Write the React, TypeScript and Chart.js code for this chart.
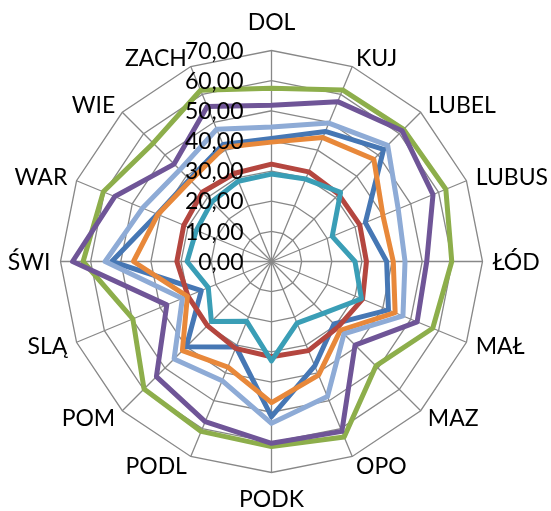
import { useEffect, useRef } from "react";
import { Chart, registerables } from "chart.js";

Chart.register(...registerables);

const categories = ["DOL", "KUJ", "LUBEL", "LUBUS", "ŁÓD", "MAŁ", "MAZ", "OPO", "PODK", "PODL", "POM", "SLĄ", "ŚWI", "WAR", "WIE", "ZACH"];

const tickValues = [0, 10, 20, 30, 40, 50, 60, 70];
const tickLabels = ["0,00", "10,00", "20,00", "30,00", "40,00", "50,00", "60,00", "70,00"];

const seriesDarkBlue = [40.8, 46.7, 52.6, 33.7, 38.2, 42.0, 29.3, 37.5, 51.5, 30.7, 40.0, 25.2, 53.0, 41.0, 38.5, 42.0];
const seriesRed = [32.3, 32.2, 31.5, 31.7, 31.5, 32.7, 31.0, 32.0, 31.6, 31.2, 30.1, 30.0, 31.4, 31.5, 32.5, 31.7];
const seriesGreen = [57.5, 61.6, 62.0, 62.6, 59.8, 57.9, 49.0, 63.0, 61.4, 61.0, 59.8, 49.8, 62.5, 60.4, 55.5, 61.5];
const seriesPurple = [51.8, 57.4, 61.3, 58.0, 51.5, 52.3, 39.2, 61.0, 60.3, 57.5, 54.0, 37.6, 66.0, 56.3, 45.7, 55.7];
const seriesTeal = [29.0, 29.6, 32.4, 21.8, 27.7, 32.3, 24.3, 22.1, 33.0, 21.5, 28.2, 22.7, 28.0, 27.0, 28.0, 28.8];
const seriesOrange = [39.6, 44.5, 48.0, 40.0, 40.4, 44.4, 32.3, 40.8, 46.8, 37.9, 41.8, 30.2, 45.8, 40.8, 38.0, 41.0];
const seriesLightBlue = [44.6, 49.7, 54.5, 45.5, 44.3, 47.2, 34.0, 48.5, 53.7, 42.8, 45.7, 32.0, 55.2, 46.3, 43.0, 47.5];

const seriesList = [
  { data: seriesDarkBlue, color: "#4677B4" },
  { data: seriesRed, color: "#B4463F" },
  { data: seriesGreen, color: "#8DAE4B" },
  { data: seriesPurple, color: "#6F5597" },
  { data: seriesTeal, color: "#3A9EB6" },
  { data: seriesOrange, color: "#E8883A" },
  { data: seriesLightBlue, color: "#8EABD6" },
];

const CX = 271.5;
const CY = 261.5;
const RADIUS = 211;
const FONT_SIZE = 23;
const FONT = `${FONT_SIZE}px Lato, "Open Sans", sans-serif`;
const CAP = FONT_SIZE * 0.7165;

const geometryPlugin = {
  id: "excelRadarGeometry",
  afterLayout(chart: any) {
    const r = chart.scales.r;
    r.xCenter = CX;
    r.yCenter = CY;
    r.drawingArea = RADIUS;
  },
  afterDatasetsDraw(chart: any) {
    const r = chart.scales.r;
    const ctx = chart.ctx as CanvasRenderingContext2D;
    ctx.save();
    ctx.fillStyle = "#000000";
    ctx.font = FONT;
    ctx.textBaseline = "alphabetic";
    // value axis labels
    ctx.textAlign = "right";
    tickValues.forEach((v, i) => {
      const d = r.getDistanceFromCenterForValue(v);
      ctx.fillText(tickLabels[i], r.xCenter - 28, r.yCenter - d + CAP / 2);
    });
    // category labels
    const n = categories.length;
    categories.forEach((lab, i) => {
      const p = r.getPointPosition(i, r.drawingArea + 10);
      const a = (i * 360) / n;
      if (a === 0) {
        ctx.textAlign = "center";
        ctx.fillText(lab, p.x, p.y - 19 + CAP / 2);
      } else if (a === 180) {
        ctx.textAlign = "center";
        ctx.fillText(lab, p.x, p.y + 16.5 + CAP / 2);
      } else if (a < 180) {
        ctx.textAlign = "left";
        ctx.fillText(lab, p.x, p.y + CAP / 2);
      } else {
        ctx.textAlign = "right";
        ctx.fillText(lab, p.x, p.y + CAP / 2);
      }
    });
    ctx.restore();
  },
};

export default function App() {
  const ref = useRef<HTMLCanvasElement | null>(null);

  useEffect(() => {
    if (!ref.current) return;
    const chart = new Chart(ref.current, {
      type: "radar",
      data: {
        labels: categories,
        datasets: seriesList.map((s, i) => ({
          label: `Seria ${i + 1}`,
          data: s.data,
          borderColor: s.color,
          backgroundColor: s.color,
          borderWidth: 5,
          borderJoinStyle: "round" as const,
          pointRadius: 0,
          pointHoverRadius: 0,
          fill: false,
          tension: 0,
          order: seriesList.length - i,
        })),
      },
      options: {
        responsive: false,
        animation: false,
        events: [],
        plugins: {
          legend: { display: false },
          tooltip: { enabled: false },
          title: { display: false },
        },
        scales: {
          r: {
            min: 0,
            max: 70,
            ticks: { stepSize: 10, display: false },
            grid: { color: "#888888", lineWidth: 1.3, circular: false },
            angleLines: { color: "#888888", lineWidth: 1.3 },
            pointLabels: { display: false },
          },
        },
      },
      plugins: [geometryPlugin],
    });
    return () => chart.destroy();
  }, []);

  return (
    <div style={{ position: "absolute", left: 0, top: 0, width: 551, height: 511, background: "#ffffff" }}>
      <canvas ref={ref} width={551} height={511} style={{ display: "block" }} />
    </div>
  );
}
